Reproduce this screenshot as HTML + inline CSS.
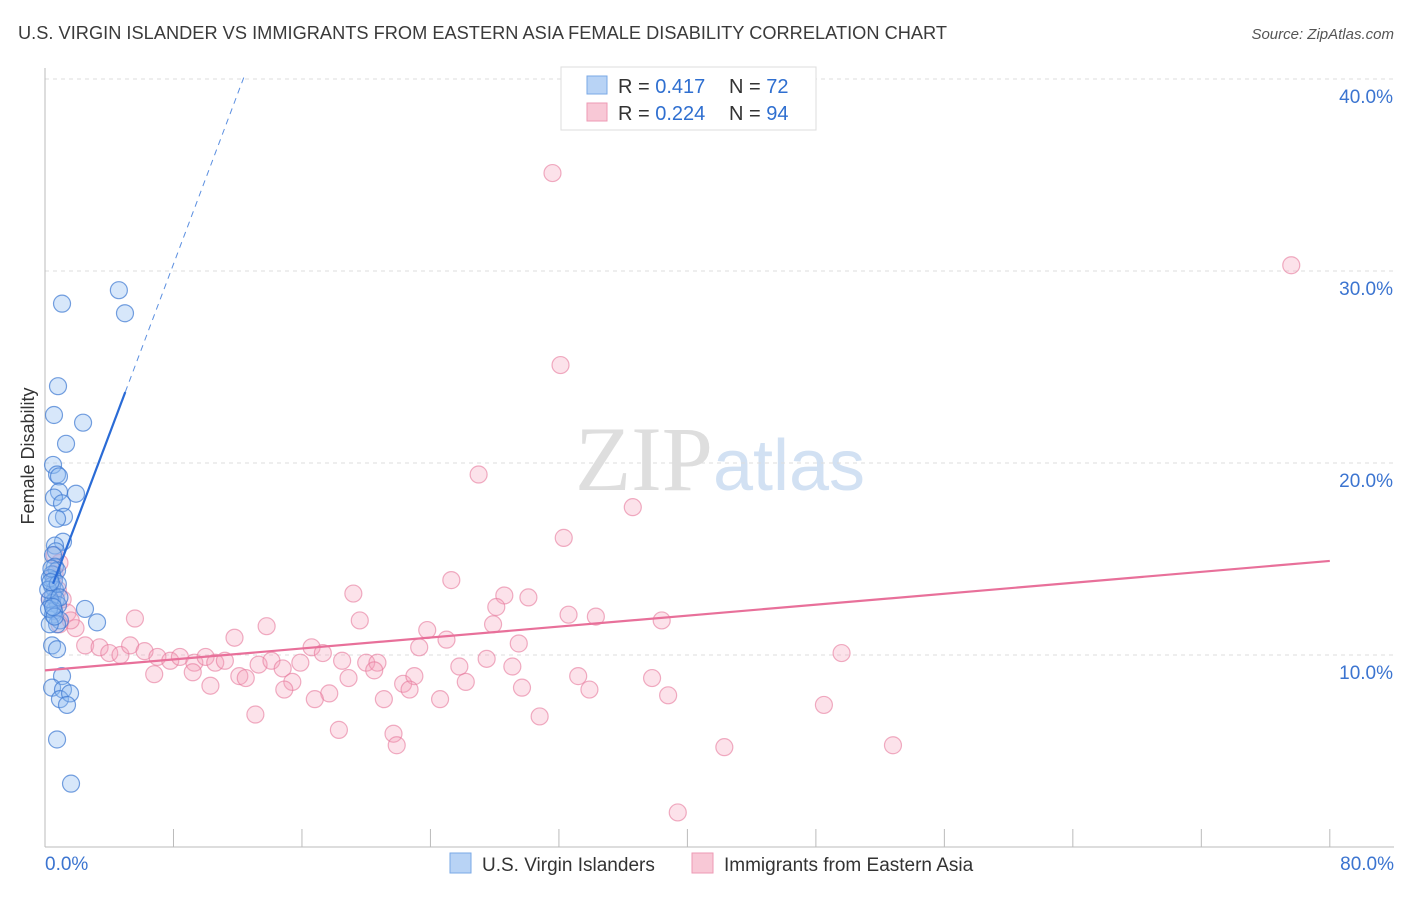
<!DOCTYPE html>
<html><head><meta charset="utf-8"><style>
body{margin:0;background:#fff;font-family:"Liberation Sans",sans-serif;}
svg text{font-family:"Liberation Sans",sans-serif;}
</style></head><body>
<svg id="chart" width="1406" height="892" viewBox="0 0 1406 892">
<text x="18" y="39" font-size="18.2" fill="#3a3a3a" textLength="929">U.S. VIRGIN ISLANDER VS IMMIGRANTS FROM EASTERN ASIA FEMALE DISABILITY CORRELATION CHART</text>
<text x="1394" y="39" font-size="15" fill="#555" text-anchor="end" font-style="italic">Source: ZipAtlas.com</text>
<text transform="translate(34,456) rotate(-90)" font-size="18" fill="#333" text-anchor="middle">Female Disability</text>
<text x="720" y="490" font-size="92" text-anchor="middle"><tspan fill="#dedede" font-family="Liberation Serif">ZIP</tspan><tspan fill="#d2e1f3" font-size="72">atlas</tspan></text>
<g id="grid"></g><g id="axes"></g><g id="pink"></g><g id="blue"></g><g id="lines"></g>
<g>
<rect x="561" y="67" width="255" height="63" fill="#fff" stroke="#ddd"/>
<rect x="587" y="76" width="20" height="18" fill="#b8d3f5" stroke="#7aa8e6"/>
<text x="618" y="93" font-size="20" fill="#333">R = <tspan fill="#2f6fd0">0.417</tspan><tspan x="729">N = </tspan><tspan fill="#2f6fd0">72</tspan></text>
<rect x="587" y="103" width="20" height="18" fill="#f8c8d6" stroke="#ee9ab4"/>
<text x="618" y="120" font-size="20" fill="#333">R = <tspan fill="#2f6fd0">0.224</tspan><tspan x="729">N = </tspan><tspan fill="#2f6fd0">94</tspan></text>
</g>
<g>
<rect x="450" y="853" width="21" height="20" fill="#b8d3f5" stroke="#7aa8e6"/>
<text x="482" y="871" font-size="19" fill="#333">U.S. Virgin Islanders</text>
<rect x="692" y="853" width="21" height="20" fill="#f8c8d6" stroke="#ee9ab4"/>
<text x="724" y="871" font-size="19" fill="#333">Immigrants from Eastern Asia</text>
</g>
</svg>
<script>
const xTicks=[0,8,16,24,32,40,48,56,64,72,80];
const yTicks=[10,20,30,40];
const blueX=[4.6,1.06,4.98,0.81,0.56,2.37,1.31,0.5,0.75,0.87,1.93,0.87,0.56,1.06,1.18,0.75,1.12,0.62,0.68,0.5,0.62,0.75,0.44,0.56,0.44,0.62,0.5,0.68,0.44,0.81,0.56,2.49,0.5,0.93,3.24,0.75,0.44,0.75,1.06,0.44,1.12,0.93,1.56,1.37,0.75,1.62,0.3,0.3,0.3,0.2,0.25,0.4,0.6,0.8,0.9,0.35,0.5];
const blueY=[29.0,28.3,27.8,24.0,22.5,22.1,21.0,19.9,19.4,19.3,18.4,18.5,18.2,17.9,17.2,17.1,15.9,15.7,15.4,15.2,14.6,14.4,14.2,13.9,13.6,13.4,13.1,12.9,12.7,12.6,12.3,12.4,12.1,11.8,11.7,11.6,10.5,10.3,8.9,8.3,8.2,7.7,8.0,7.4,5.6,3.3,14.0,12.9,11.6,13.4,12.4,14.5,12.0,13.7,13.0,13.8,12.5];
const pinkX=[31.6,77.6,32.1,27.0,36.6,32.3,25.3,19.2,28.6,30.1,28.1,32.6,34.3,5.6,19.6,38.4,13.8,27.9,23.8,11.8,25.0,29.5,16.6,23.3,49.6,2.5,3.4,4.0,4.7,5.3,6.2,7.0,7.8,8.4,9.3,10.0,10.6,11.2,12.1,13.3,14.1,14.8,15.9,17.3,18.5,20.0,20.7,20.5,25.8,27.5,29.1,6.8,9.2,10.3,12.5,15.4,14.9,18.9,22.3,23.0,22.7,26.2,29.7,33.2,33.9,37.8,38.8,17.7,16.8,21.1,24.6,13.1,30.8,48.5,18.3,21.7,21.9,42.3,52.8,39.4,0.9,0.6,0.8,1.1,1.4,1.9,1.6,0.6,0.3,0.9];
const pinkY=[35.1,30.3,25.1,19.4,17.7,16.1,13.9,13.2,13.1,13.0,12.5,12.1,12.0,11.9,11.8,11.8,11.5,11.6,11.3,10.9,10.8,10.6,10.4,10.4,10.1,10.5,10.4,10.1,10.0,10.5,10.2,9.9,9.7,9.9,9.6,9.9,9.6,9.7,8.9,9.5,9.7,9.3,9.6,10.1,9.7,9.6,9.6,9.2,9.4,9.8,9.4,9.0,9.1,8.4,8.8,8.6,8.2,8.8,8.5,8.9,8.2,8.6,8.3,8.9,8.2,8.8,7.9,8.0,7.7,7.7,7.7,6.9,6.8,7.4,6.1,5.9,5.3,5.2,5.3,1.8,14.8,14.2,13.4,12.9,12.2,11.4,11.8,15.2,12.9,11.6];
const blueTrend=[12.6,2.22];
const pinkTrend=[9.2,14.9];
const X=v=>45+v*16.06, Y=v=>847-v*19.2;
const NS="http://www.w3.org/2000/svg";
function mk(t,a,p){const e=document.createElementNS(NS,t);for(const k in a)e.setAttribute(k,a[k]);document.getElementById(p).appendChild(e);return e;}
yTicks.forEach(t=>{
 const l=mk('line',{x1:45,x2:1394,y1:Y(t),y2:Y(t),stroke:'#ddd','stroke-dasharray':'4,4'},'grid');
 
 
 const tx=mk('text',{x:1393,y:Y(t)+24,'font-size':19,fill:'#3b74d0','text-anchor':'end'},'axes');
 tx.textContent=t.toFixed(1)+'%';
 
 
});
const ax=mk('line',{x1:45,x2:45,y1:68,y2:847,stroke:'#bbb'},'axes');


const bx=mk('line',{x1:45,x2:1394,y1:847,y2:847,stroke:'#bbb'},'axes');


xTicks.forEach(t=>{
 const l=mk('line',{x1:X(t),x2:X(t),y1:829,y2:847,stroke:'#bbb'},'axes');
 
 
});
[[0,'0.0%','start',45],[80,'80.0%','end',1394]].forEach(([v,s,a,x])=>{
 const tx=mk('text',{x:x,y:870,'font-size':19,fill:'#3b74d0','text-anchor':a},'axes');
 tx.textContent=s;
 
 
});
pinkX.forEach((v,i)=>{
 const c=mk('circle',{cx:X(v),cy:Y(pinkY[i]),r:8.5,fill:'rgba(245,160,185,0.3)',stroke:'rgba(230,120,155,0.6)','stroke-width':1.2},'pink');
 
 
});
blueX.forEach((v,i)=>{
 const c=mk('circle',{cx:X(v),cy:Y(blueY[i]),r:8.5,fill:'rgba(140,185,240,0.35)',stroke:'rgba(60,120,210,0.7)','stroke-width':1.2},'blue');
 
 
});
const pl=mk('line',{x1:X(0),y1:Y(pinkTrend[0]),x2:X(80),y2:Y(pinkTrend[1]),stroke:'#e8709a','stroke-width':2.2},'lines');


const bl=mk('line',{x1:X(0.5),y1:Y(blueTrend[0]+0.5*blueTrend[1]),x2:X(5),y2:Y(blueTrend[0]+5*blueTrend[1]),stroke:'#2a6bd6','stroke-width':2.2},'lines');


const bd=mk('line',{x1:X(5),y1:Y(blueTrend[0]+5*blueTrend[1]),x2:X(12.4),y2:Y(blueTrend[0]+12.4*blueTrend[1]),stroke:'#5b8fe0','stroke-width':1,'stroke-dasharray':'6,5'},'lines');


</script>
</body></html>
